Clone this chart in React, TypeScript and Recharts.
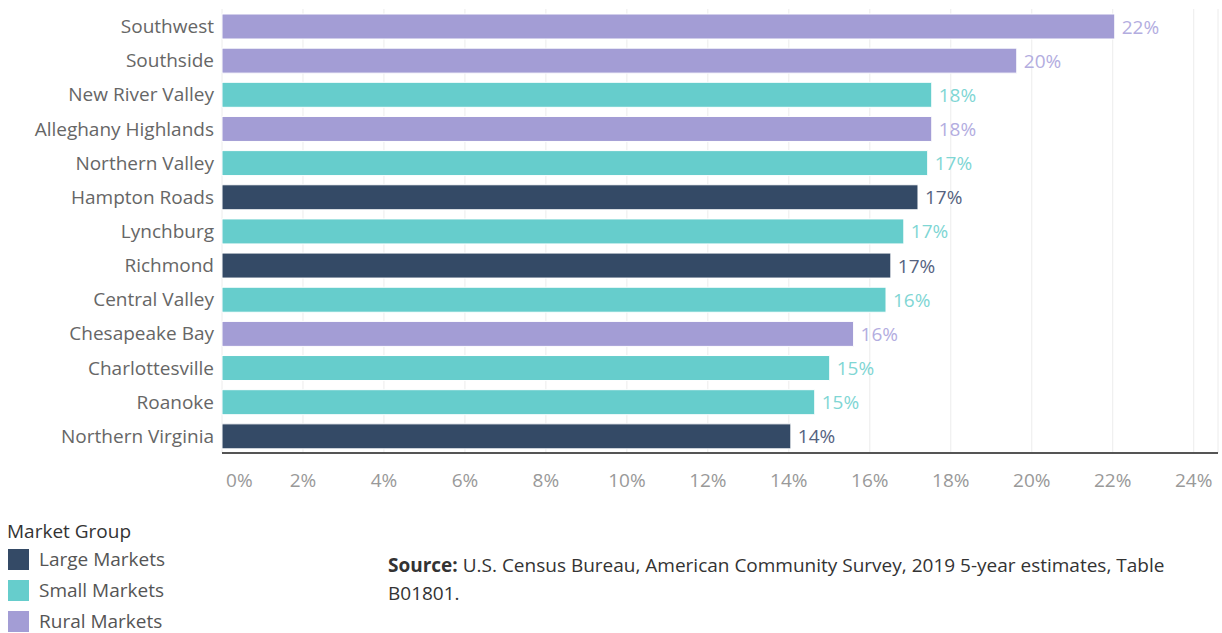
import React from "react";
import { BarChart, Bar, XAxis, YAxis, CartesianGrid, Cell, LabelList } from "recharts";

const regions = [
  "Southwest",
  "Southside",
  "New River Valley",
  "Alleghany Highlands",
  "Northern Valley",
  "Hampton Roads",
  "Lynchburg",
  "Richmond",
  "Central Valley",
  "Chesapeake Bay",
  "Charlottesville",
  "Roanoke",
  "Northern Virginia",
];
const shares = [22.05, 19.63, 17.53, 17.53, 17.43, 17.19, 16.84, 16.52, 16.4, 15.6, 15.01, 14.64, 14.05];
const groups = ["Rural", "Rural", "Small", "Rural", "Small", "Large", "Small", "Large", "Small", "Rural", "Small", "Small", "Large"];
const xTicks = [0, 2, 4, 6, 8, 10, 12, 14, 16, 18, 20, 22, 24];

const groupNames = ["Large", "Small", "Rural"];
const legendLabels = ["Large Markets", "Small Markets", "Rural Markets"];

const FONT = "'Open Sans', sans-serif";
const FS = 19;
const barColor: Record<string, string> = { Large: "#344a66", Small: "#66cdcc", Rural: "#a39dd5" };
const labelColor: Record<string, string> = { Large: "#56637f", Small: "#7fd6d4", Rural: "#b3addf" };

const data = regions.map((r, i) => ({ region: r, share: shares[i], group: groups[i] }));

const XTick = (props: any) => {
  const { x, y, payload, index } = props;
  const first = index === 0;
  return (
    <text
      x={first ? x + 4 : x}
      y={y + 34}
      textAnchor={first ? "start" : "middle"}
      fill="#999"
      fontSize={FS}
      fontFamily={FONT}
    >
      {payload.value}%
    </text>
  );
};

const YTick = (props: any) => {
  const { x, y, payload } = props;
  return (
    <text x={x} y={y + 7} textAnchor="end" fill="#666" fontSize={FS} fontFamily={FONT}>
      {payload.value}
    </text>
  );
};

const ValueLabel = (props: any) => {
  const { x, y, width, height, index } = props;
  const d = data[index];
  return (
    <text x={x + width + 7} y={y + height / 2 + 7} fill={labelColor[d.group]} fontSize={FS} fontFamily={FONT}>
      {Math.round(d.share)}%
    </text>
  );
};

export default function App() {
  return (
    <div style={{ position: "absolute", left: 0, top: 0, width: 1222, height: 633, background: "#fff", fontFamily: FONT }}>
      <BarChart
        width={1222}
        height={500}
        data={data}
        layout="vertical"
        margin={{ top: 9, right: 4, left: 0, bottom: 17 }}
        barSize={25}
      >
        <CartesianGrid horizontal={false} stroke="#ececec" />
        <XAxis
          type="number"
          domain={[0, 24.6]}
          ticks={xTicks}
          height={30}
          tickLine={false}
          tickSize={0}
          tickMargin={0}
          axisLine={{ stroke: "#555", strokeWidth: 2 }}
          tick={<XTick />}
          interval={0}
        />
        <YAxis
          type="category"
          dataKey="region"
          width={222}
          axisLine={false}
          tickLine={false}
          tickSize={0}
          tickMargin={8}
          tick={<YTick />}
          interval={0}
        />
        <Bar dataKey="share" isAnimationActive={false} stroke="#ffffff" strokeWidth={1}>
          {data.map((d, i) => (
            <Cell key={i} fill={barColor[d.group]} />
          ))}
          <LabelList dataKey="share" content={<ValueLabel />} />
        </Bar>
      </BarChart>

      <div style={{ position: "absolute", left: 7, top: 520, fontSize: FS, lineHeight: "22px", color: "#333" }}>Market Group</div>
      {groupNames.map((g, i) => (
        <div
          key={g}
          style={{ position: "absolute", left: 8, top: 548 + i * 31, display: "flex", alignItems: "center", fontSize: FS, lineHeight: "22px", color: "#555" }}
        >
          <div style={{ width: 21, height: 21, background: barColor[g], marginRight: 10 }} />
          <span>{legendLabels[i]}</span>
        </div>
      ))}

      <div style={{ position: "absolute", left: 388, top: 551, width: 830, fontSize: FS, color: "#333", lineHeight: "28px" }}>
        <b>Source:</b> U.S. Census Bureau, American Community Survey, 2019 5-year estimates, Table
        <br />
        B01801.
      </div>
    </div>
  );
}
